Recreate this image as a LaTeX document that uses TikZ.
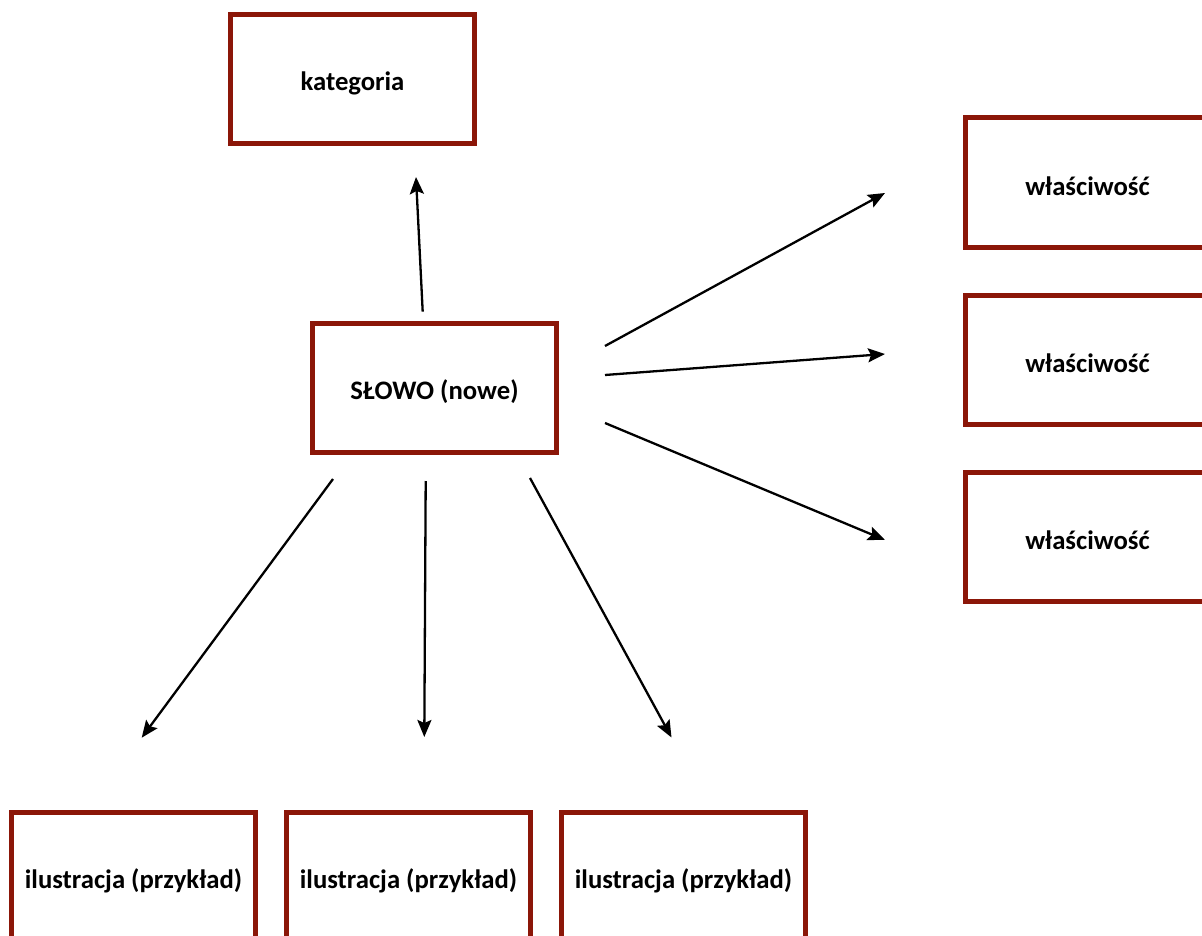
\documentclass[tikz,border=0pt]{standalone}
\usepackage{fontspec}
\setmainfont{Carlito}
\usetikzlibrary{arrows.meta}
\definecolor{boxred}{RGB}{139,22,8}
\newcommand{\lbl}[1]{\raisebox{-4pt}[\height][\depth]{#1}}
\begin{document}
\begin{tikzpicture}[x=1pt,y=-1pt,
  box/.style={draw=boxred,line width=5pt,minimum width=244pt,minimum height=129pt,inner sep=0pt,font=\fontsize{26.7}{32}\selectfont\bfseries},
  conn/.style={line width=2.3pt,-{Stealth[length=17pt,width=14pt,inset=3pt]}}]
\useasboundingbox (0,0) rectangle (1202,936);
\clip (0,0) rectangle (1202,936);
\fill[white] (0,0) rectangle (1202,936);
\node[box] (kat) at (352.5,79.5) {\lbl{kategoria}};
\node[box] (slowo) at (434.5,388) {\lbl{SŁOWO (nowe)}};
\node[box] (w1) at (1087.5,182.5) {\lbl{właściwość}};
\node[box] (w2) at (1087.5,359.5) {\lbl{właściwość}};
\node[box] (w3) at (1087.5,536.5) {\lbl{właściwość}};
\node[box] (i1) at (133.5,877) {\lbl{ilustracja (przykład)}};
\node[box] (i2) at (408.5,877) {\lbl{ilustracja (przykład)}};
\node[box] (i3) at (683.5,877) {\lbl{ilustracja (przykład)}};
\coordinate (sk) at (422.7,311.7); \coordinate (ek) at (416,177);
\coordinate (s1) at (605,346); \coordinate (e1) at (885,193);
\coordinate (s2) at (605,375); \coordinate (e2) at (885,354);
\coordinate (s3) at (605,423); \coordinate (e3) at (885,540);
\coordinate (t1) at (333,479); \coordinate (f1) at (141.7,737.7);
\coordinate (t2) at (425.7,481); \coordinate (f2) at (424.3,737);
\coordinate (t3) at (530,478); \coordinate (f3) at (671.5,737.5);
\draw[conn] (sk) -- (ek);
\draw[conn] (s1) -- (e1);
\draw[conn] (s2) -- (e2);
\draw[conn] (s3) -- (e3);
\draw[conn] (t1) -- (f1);
\draw[conn] (t2) -- (f2);
\draw[conn] (t3) -- (f3);
\end{tikzpicture}
\end{document}
